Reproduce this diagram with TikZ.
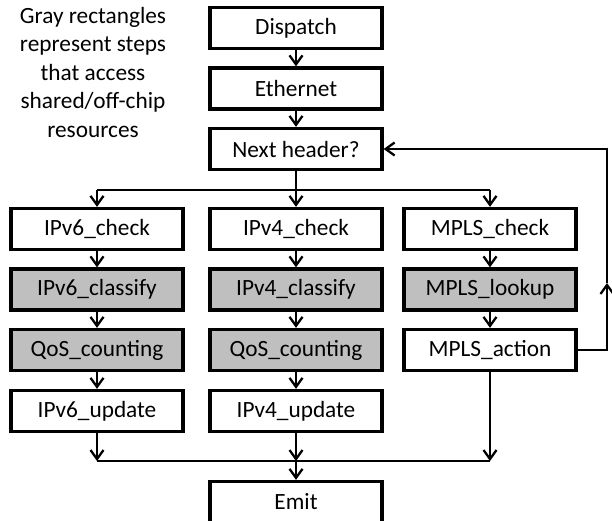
\documentclass[tikz,border=0pt]{standalone}
\usepackage{fontspec}
\setmainfont{Carlito}
\usetikzlibrary{arrows.meta}
\definecolor{shade}{RGB}{191,191,191}
\begin{document}
\begin{tikzpicture}[x=1pt,y=-1pt,
  font=\fontsize{23.3}{28.5}\selectfont,
  stepbox/.style={draw=black, line width=3.3pt, fill=white, minimum width=172pt,
    minimum height=41pt, inner sep=0pt},
  memstep/.style={stepbox, fill=shade},
  link/.style={line width=2.3pt, -{Straight Barb[length=9pt,width=13pt,line width=2.3pt]}},
  plain/.style={line width=2.3pt}]
\useasboundingbox (0,0) rectangle (612,521);

% column centres: left 97, middle 296, right 490
\node[stepbox] (dispatch) at (296,28)  {Dispatch};
\node[stepbox] (eth)      at (296,88.5){Ethernet};
\node[stepbox] (next)     at (296,149) {Next header?};

\node[stepbox] (v6chk)  at (97,229)    {IPv6\_check};
\node[memstep] (v6cls)  at (97,289.5)  {IPv6\_classify};
\node[memstep] (v6qos)  at (97,350)    {QoS\_counting};
\node[stepbox] (v6upd)  at (97,411)    {IPv6\_update};

\node[stepbox] (v4chk)  at (296,229)   {IPv4\_check};
\node[memstep] (v4cls)  at (296,289.5) {IPv4\_classify};
\node[memstep] (v4qos)  at (296,350)   {QoS\_counting};
\node[stepbox] (v4upd)  at (296,411)   {IPv4\_update};

\node[stepbox] (mchk)   at (490,229)   {MPLS\_check};
\node[memstep] (mlook)  at (490,289.5) {MPLS\_lookup};
\node[stepbox] (mact)   at (490,350)   {MPLS\_action};

\node[stepbox] (emit)   at (296,502)   {Emit};

\node[align=center, inner sep=0pt] (legend) at (93,72)
  {Gray rectangles\\represent steps\\that access\\shared/off-chip\\resources};

% straight chains
\draw[link] (dispatch) -- (eth);
\draw[link] (eth) -- (next);
\draw[link] (v6chk) -- (v6cls);
\draw[link] (v6cls) -- (v6qos);
\draw[link] (v6qos) -- (v6upd);
\draw[link] (v4chk) -- (v4cls);
\draw[link] (v4cls) -- (v4qos);
\draw[link] (v4qos) -- (v4upd);
\draw[link] (mchk) -- (mlook);
\draw[link] (mlook) -- (mact);

% branch below the header test
\coordinate (split) at (296,190);
\coordinate (splitL) at (97,190);
\coordinate (splitR) at (490,190);
\draw[plain] (next.south) -- (split);
\draw[plain] (splitL) -- (splitR);
\draw[link] (splitL) -- (v6chk.north);
\draw[link] (split) -- (v4chk.north);
\draw[link] (splitR) -- (mchk.north);

% loop back from MPLS_action to the header test
\coordinate (loopA) at (607,350);
\coordinate (loopB) at (607,283);
\coordinate (loopC) at (607,149);
\draw[link] (mact.east) -- (loopA) -- (loopB);
\draw[link] (loopB) -- (loopC) -- (next.east);

% merge into Emit
\coordinate (joinL) at (97,461);
\coordinate (joinM) at (296,461);
\coordinate (joinR) at (490,461);
\draw[plain] (joinL) -- (joinR);
\draw[link] (v6upd.south) -- (joinL);
\draw[link] (v4upd.south) -- (joinM);
\draw[link] (joinM) -- (emit.north);
\draw[link] (mact.south) -- (joinR);
\end{tikzpicture}
\end{document}
